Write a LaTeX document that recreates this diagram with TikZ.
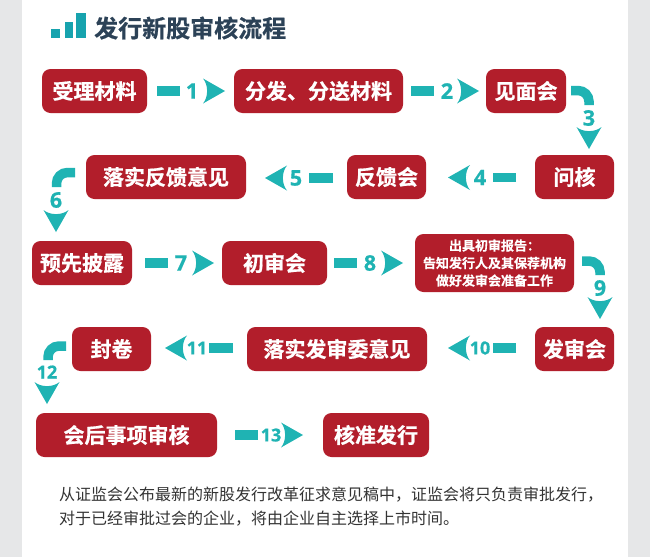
\documentclass[tikz,border=0pt]{standalone}
\usepackage{fontspec}
\setmainfont{Noto Sans CJK SC}
\newfontfamily\cjkbold[FakeBold=0.7]{Noto Sans CJK SC Bold}
\newfontfamily\cjkreport[FakeBold=0.3]{Noto Sans CJK SC Bold}
\newfontfamily\numfont[FakeBold=0.5]{Open Sans Bold}
\definecolor{sidegray}{HTML}{E6E7E8}
\definecolor{boxred}{HTML}{B21E2B}
\definecolor{flowteal}{HTML}{1FB3B3}
\definecolor{titleteal}{HTML}{17A3AE}
\definecolor{titleink}{HTML}{2C4257}
\definecolor{bodyink}{HTML}{333333}
\tikzset{
  stagebox/.style={fill=boxred,rounded corners=8.5pt,inner sep=0pt,text=white,align=center,font=\cjkbold\fontsize{21}{24}\selectfont},
  flowbar/.style={draw=flowteal,line width=9.5pt},
  flownum/.style={text=flowteal,inner sep=0pt,font=\numfont\fontsize{21.5}{24}\selectfont},
  smallnum/.style={flownum,font=\numfont\fontsize{18}{20}\selectfont},
  head/.pic={\fill[flowteal] (-22,12.5) -- (0,0) -- (-22,-12.5) .. controls (-16.5,-6) and (-16.5,6) .. (-22,12.5);}
}
% id, x1, x2, y1, y2, text
\newcommand{\stage}[7][]{\node[stagebox,#1,minimum width={(#4-#3)*1pt},minimum height={(#6-#5)*1pt}] (#2) at ({(#3+#4)/2},{(#5+#6)/2}) {#7};}
% id, bar start, bar end, y, num x, num, tip x, rotation, num style
\newcommand{\straightflow}[9]{%
  \coordinate (#1s) at (#2,#4); \coordinate (#1e) at (#3,#4); \coordinate (#1t) at (#7,#4);
  \draw[flowbar] (#1s) -- (#1e);
  \node[#9] (#1n) at (#5,#4) {#6};
  \pic[rotate=#8] at (#1t) {head};}
% id, start, corner, end, num pos, num, tip, style
\newcommand{\bendflow}[8]{%
  \coordinate (#1s) at #2; \coordinate (#1c) at #3; \coordinate (#1e) at #4; \coordinate (#1t) at #7;
  \draw[flowbar,rounded corners=11pt] (#1s) -- (#1c) -- (#1e);
  \node[#8] (#1n) at #5 {#6};
  \pic[rotate=-90] at (#1t) {head};}
\begin{document}
\begin{tikzpicture}[x=1pt,y=-1pt]
\useasboundingbox (0,0) rectangle (650,557);
\fill[white] (0,0) rectangle (650,557);
\fill[sidegray] (0,0) rectangle (22,557);
\fill[sidegray] (628,0) rectangle (650,557);
% title
\fill[titleteal] (51,29) rectangle (60,38);
\fill[titleteal] (65,22) rectangle (73,38);
\fill[titleteal] (76,13) rectangle (86,38);
\node[anchor=west,inner sep=0pt,text=titleink,font=\cjkbold\fontsize{24}{28}\selectfont] (title) at (94,28) {发行新股审核流程};
% stages
\stage{a}{42}{147}{69}{113}{受理材料}
\stage{b}{234}{403}{69}{113}{分发、分送材料}
\stage{c}{486}{566}{69}{113}{见面会}
\stage{d}{535}{614}{155}{199}{问核}
\stage{e}{347}{426}{155}{199}{反馈会}
\stage{f}{86}{246}{155}{199}{落实反馈意见}
\stage{g}{32}{132}{241}{285}{预先披露}
\stage{h}{222}{327}{241}{285}{初审会}
\stage[font=\cjkreport\fontsize{13}{17.5}\selectfont]{i}{415}{574}{234}{292}{出具初审报告：\\告知发行人及其保荐机构\\做好发审会准备工作}
\stage{j}{535}{614}{327}{371}{发审会}
\stage{k}{247}{427}{327}{371}{落实发审委意见}
\stage{l}{72}{151}{327}{371}{封卷}
\stage{m}{36}{217}{413}{457}{会后事项审核}
\stage{n}{323}{429}{413}{457}{核准发行}
% flows
\straightflow{f1}{157}{180}{91}{192}{1}{225}{0}{flownum}
\straightflow{f2}{411}{434}{91}{447}{2}{479}{0}{flownum}
\straightflow{f4}{516}{493}{177.5}{480}{4}{448}{180}{flownum}
\straightflow{f5}{333}{309}{178}{296}{5}{265}{180}{flownum}
\straightflow{f7}{145}{168}{263}{181}{7}{214}{0}{flownum}
\straightflow{f8}{334}{357}{263}{370}{8}{403}{0}{flownum}
\straightflow{f10}{516}{493}{348}{480}{10}{448}{180}{smallnum}
\straightflow{f11}{233}{209}{348}{197}{11}{165}{180}{smallnum}
\straightflow{f13}{235}{258}{435}{271}{13}{303}{0}{smallnum}
\bendflow{f3}{(571,90.5)}{(589,90.5)}{(589,105)}{(589,118)}{3}{(589,149)}{flownum}
\bendflow{f6}{(75,172.5)}{(56.5,172.5)}{(56.5,187)}{(56,200)}{6}{(56,232)}{flownum}
\bendflow{f9}{(582,261)}{(600,261)}{(600,275)}{(600,288)}{9}{(600,319)}{flownum}
\bendflow{f12}{(66,346)}{(48,346)}{(48,360)}{(47,372)}{12}{(47,404)}{smallnum}
% note
\node[anchor=west,inner sep=0pt,text=bodyink,align=left,font=\fontsize{16}{24}\selectfont] (note) at (59,507) {从证监会公布最新的新股发行改革征求意见稿中，证监会将只负责审批发行，\\对于已经审批过会的企业，将由企业自主选择上市时间。};
\end{tikzpicture}
\end{document}
